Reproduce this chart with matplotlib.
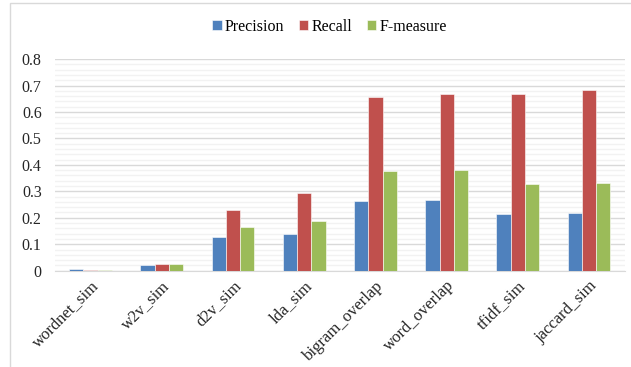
import numpy as np
import matplotlib
matplotlib.use("Agg")
import matplotlib.pyplot as plt
from matplotlib.patches import Rectangle
from matplotlib.ticker import MultipleLocator, FuncFormatter

features = ["wordnet_sim", "w2v_sim", "d2v_sim", "lda_sim",
            "bigram_overlap", "word_overlap", "tfidf_sim", "jaccard_sim"]
precision = [0.007, 0.022, 0.129, 0.139, 0.263, 0.266, 0.216, 0.218]
recall = [0.004, 0.027, 0.228, 0.293, 0.655, 0.667, 0.668, 0.682]
fmeasure = [0.004, 0.025, 0.165, 0.188, 0.375, 0.380, 0.326, 0.330]

series = [("Precision", precision, "#4f81bd"),
          ("Recall", recall, "#c0504d"),
          ("F-measure", fmeasure, "#9bbb59")]

plt.rcParams['font.family'] = ['Liberation Serif', 'DejaVu Serif']

fig = plt.figure(figsize=(6.31, 3.67), dpi=100)
ax = fig.add_axes([0.087, 0.2624, 0.903, 0.5767])

# chart frame like the office export
fig.patches.append(Rectangle((10 / 631, -0.01), 1.2, 1 - 3 / 367 + 0.01,
                             transform=fig.transFigure, fill=False,
                             edgecolor="#d9d9d9", linewidth=1.0))

x = np.arange(len(features))
w = 0.2
for i, (name, vals, col) in enumerate(series):
    ax.bar(x + (i - 1) * w, vals, w, color=col, label=name,
           edgecolor="white", linewidth=0.4, zorder=3)

ax.set_xlim(-0.5, len(features) - 0.5)
ax.set_ylim(0, 0.8)
ax.yaxis.set_major_locator(MultipleLocator(0.1))
ax.yaxis.set_minor_locator(MultipleLocator(0.02))
ax.yaxis.set_major_formatter(FuncFormatter(lambda v, p: "0" if abs(v) < 1e-9 else "%.1f" % v))
ax.grid(axis="y", which="major", color="#d9d9d9", linewidth=1.0, zorder=0)
ax.grid(axis="y", which="minor", color="#f2f2f2", linewidth=1.0, zorder=0)

ax.set_xticks(x)
ax.set_xticklabels(features, rotation=45, ha="right", rotation_mode="anchor")
ax.tick_params(axis="both", which="both", length=0, colors="#262626")
ax.tick_params(axis="x", labelsize=12, pad=5)
ax.tick_params(axis="y", labelsize=11.5, pad=9.5)
for s in ["top", "right", "left"]:
    ax.spines[s].set_visible(False)
ax.spines["bottom"].set_color("#d9d9d9")

fig.legend(loc="center", bbox_to_anchor=(0.522, 1 - 27 / 367), ncol=3,
           frameon=False, fontsize=11.5, handlelength=0.6, handleheight=0.6,
           handletextpad=0.2, columnspacing=0.9)

fig.savefig("out.png", dpi=100)
